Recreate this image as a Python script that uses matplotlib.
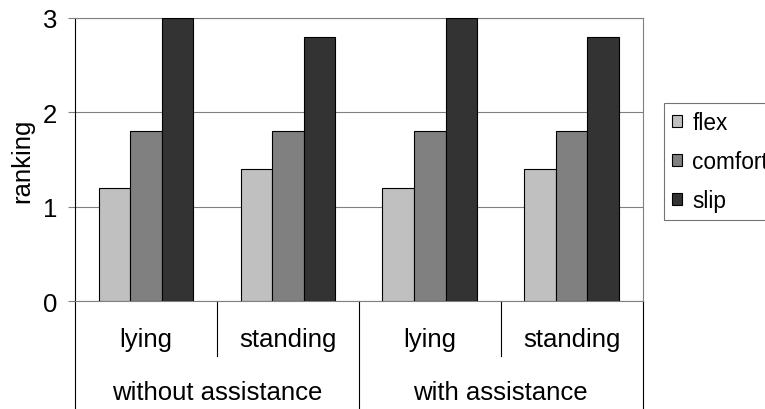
import numpy as np
import matplotlib
matplotlib.use("Agg")
import matplotlib.pyplot as plt

plt.rcParams["font.family"] = ["Liberation Sans", "DejaVu Sans"]

# data
positions = ["lying", "standing", "lying", "standing"]
groups = ["without assistance", "with assistance"]
series_names = ["flex", "comfort", "slip"]
flex = [1.2, 1.4, 1.2, 1.4]
comfort = [1.8, 1.8, 1.8, 1.8]
slip = [3.0, 2.8, 3.0, 2.8]
colors = ["#c0c0c0", "#808080", "#333333"]


def draw_chart():
    fig = plt.figure(figsize=(7.65, 4.1), dpi=100)
    ax = fig.add_axes([0.098, 0.2634, 0.742, 0.6903])

    x = np.arange(len(positions))
    width = 1 / 4.5
    for i, (vals, name) in enumerate(zip([flex, comfort, slip], series_names)):
        ax.bar(x + (i - 1) * width, vals, width, color=colors[i],
               edgecolor="black", linewidth=0.8, label=name, zorder=3)

    ax.set_xlim(-0.5, len(positions) - 0.5)
    ax.set_ylim(0, 3)
    ax.set_yticks([0, 1, 2, 3])
    ax.set_xticks([])
    ax.yaxis.grid(True, color="#808080", linewidth=0.8, zorder=0)
    ax.tick_params(axis="y", length=5, width=0.8, color="#808080",
                   labelsize=18.5, pad=8)

    for side in ["top", "right", "bottom"]:
        ax.spines[side].set_color("#808080")
        ax.spines[side].set_linewidth(0.8)
    ax.spines["left"].set_color("black")
    ax.spines["left"].set_linewidth(0.8)

    ax.set_ylabel("ranking", fontsize=18.5)
    ax.yaxis.set_label_coords(-0.092, 0.5)
    ax.yaxis.label.set_va("center")

    # multi-level category axis
    tr = ax.get_xaxis_transform()
    for i, lab in enumerate(positions):
        ax.text(x[i], -0.134, lab, transform=tr, ha="center", va="center",
                fontsize=18.5)
    for j, g in enumerate(groups):
        ax.text(2 * j + 0.5, -0.322, g, transform=tr, ha="center",
                va="center", fontsize=18.5)

    # dividers
    ax.plot([0.5, 0.5], [0, -0.194], transform=tr, color="black",
            linewidth=0.8, clip_on=False)
    ax.plot([2.5, 2.5], [0, -0.194], transform=tr, color="black",
            linewidth=0.8, clip_on=False)
    for xv in [-0.5, 1.5, 3.5]:
        ax.plot([xv, xv], [0, -0.4], transform=tr, color="black",
                linewidth=0.8, clip_on=False)

    leg = ax.legend(loc="upper left", bbox_to_anchor=(0.868, 0.746),
                    bbox_transform=fig.transFigure, fontsize=16.3,
                    frameon=True, fancybox=False, borderaxespad=0,
                    handlelength=0.45, handleheight=0.45,
                    handletextpad=0.45, labelspacing=0.7, borderpad=0.35)
    leg.get_frame().set_edgecolor("#505050")
    leg.get_frame().set_linewidth(0.8)

    fig.savefig("out.png", dpi=100)


def main() -> None:
    draw_chart()


main()
